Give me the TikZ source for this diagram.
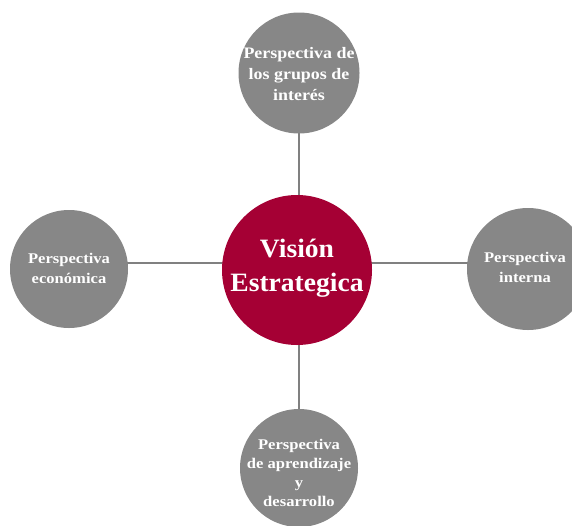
\documentclass[tikz,border=0pt]{standalone}
\usepackage{fontspec}
\setmainfont{Liberation Serif}
\newfontfamily\smallfnt[FakeStretch=1.12]{Liberation Serif}
\newfontfamily\bigfnt[FakeStretch=1.04]{Liberation Serif}
\usetikzlibrary{backgrounds}
\definecolor{circgray}{HTML}{878787}
\definecolor{vred}{HTML}{A50034}
\definecolor{linegray}{HTML}{808080}
\begin{document}
\begin{tikzpicture}[x=1pt,y=-1pt,
  small/.style={text=white,font=\smallfnt\bfseries\fontsize{14.8}{20}\selectfont,align=center,inner sep=0pt},
  big/.style={text=white,font=\bigfnt\bfseries\fontsize{26.5}{33.5}\selectfont,align=center,inner sep=0pt},
  conn/.style={draw=linegray,line width=1.8pt}]
\useasboundingbox (0,0) rectangle (572,525);
\node[big] (c) at (297,268) {Visión\\Estrategica};
\node[small,font=\smallfnt\bfseries\fontsize{16}{21}\selectfont] (t) at (299,74) {Perspectiva de\\los grupos de\\interés};
\node[small] (l) at (69,268) {Perspectiva\\económica};
\node[small] (r) at (525,267) {Perspectiva\\interna};
\node[small,font=\smallfnt\bfseries\fontsize{14.8}{19}\selectfont] (b) at (299,473) {Perspectiva\\de aprendizaje\\y\\desarrollo};
\begin{pgfonlayer}{background}
\draw[conn] ([yshift=5pt]l.center) -- ([yshift=5pt]c.center) -- ([yshift=4pt]r.center);
\draw[conn] (t.center) -- (b.center);
\fill[vred] ([yshift=-2pt]c.center) circle (75);
\fill[circgray] ([yshift=1pt]t.center) circle (60.5);
\fill[circgray] ([yshift=-1pt]l.center) circle (59);
\fill[circgray] ([xshift=3pt,yshift=-2pt]r.center) circle (61);
\fill[circgray] ([yshift=5pt]b.center) circle (59);
\end{pgfonlayer}
\end{tikzpicture}
\end{document}
